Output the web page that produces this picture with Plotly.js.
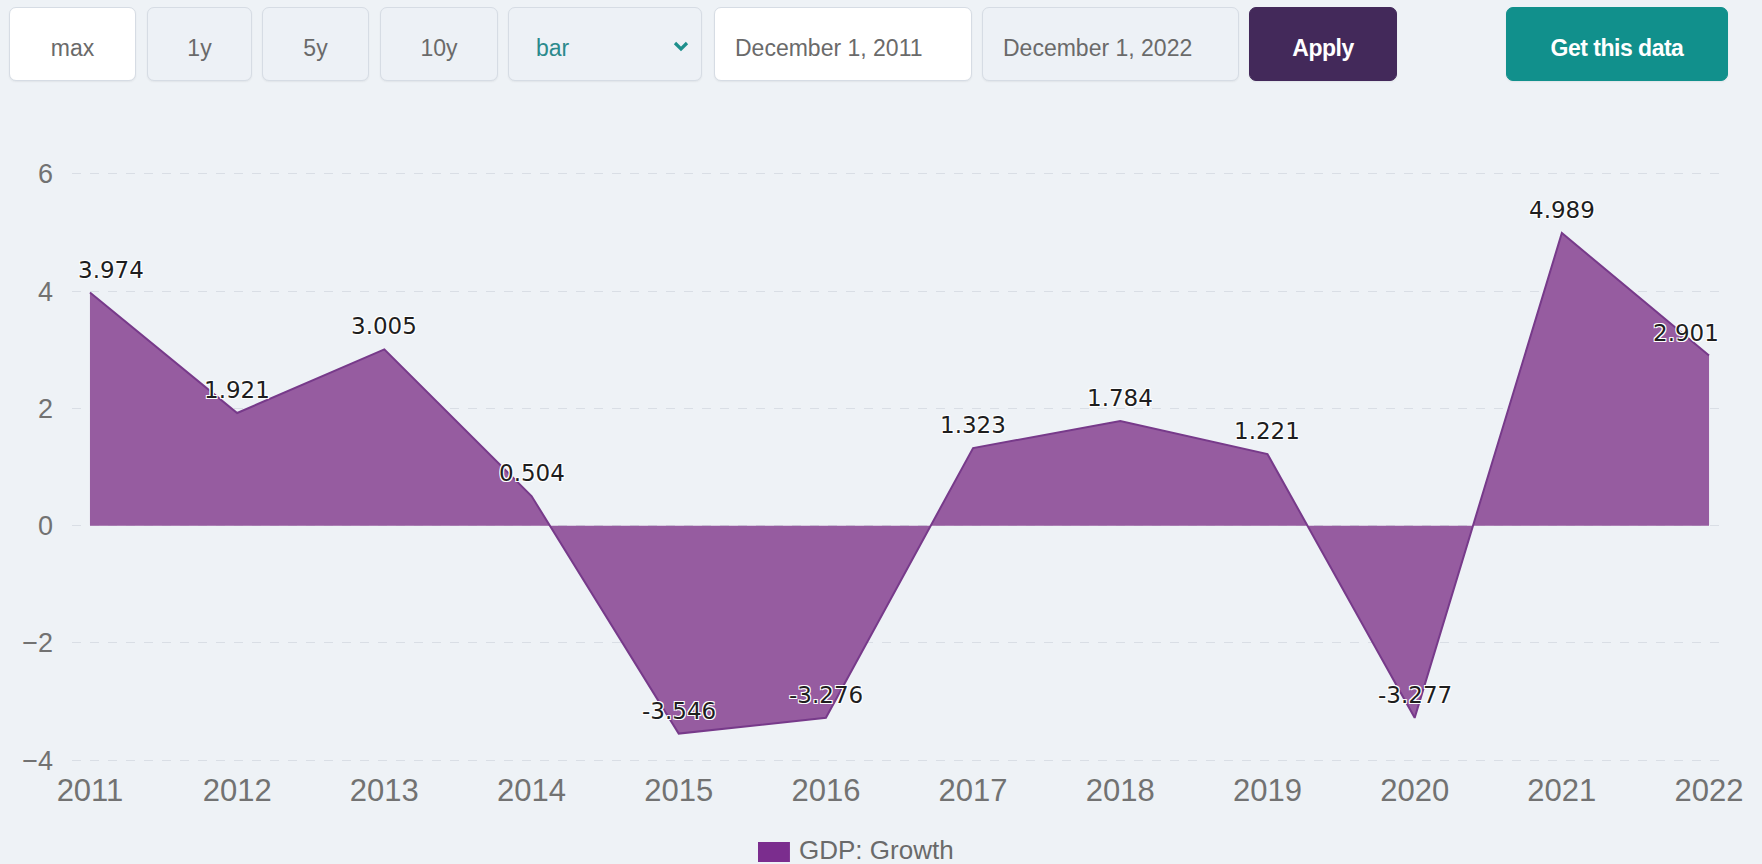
<!DOCTYPE html>
<html>
<head>
<meta charset="utf-8">
<script src="https://cdn.plot.ly/plotly-3.0.1.min.js"></script>
<style>
  html, body { margin: 0; padding: 0; background: #eef2f6; width: 1762px; height: 864px; overflow: hidden; }
  #chart { position: absolute; left: 0; top: 0; width: 1762px; height: 864px; }
  .bar { position: absolute; top: 0; left: 0; width: 1762px; height: 90px; z-index: 5; }
  .btn { position: absolute; top: 7px; height: 74px; box-sizing: border-box; border: 1px solid #d6dce4; border-radius: 7px;
         background: #edf1f6; color: #6a6a6a; font-family: "Liberation Sans Narrow", "Liberation Sans", Arial, sans-serif;
         font-size: 23px; display: flex; align-items: center; justify-content: center; padding-top: 9px;
         box-shadow: 0 1px 2px rgba(0,0,0,0.06); }
  .white { background: #ffffff; }
  .left { justify-content: flex-start; padding-left: 20px; }
  .dark { background: #43295a; color: #fff; border-color: #43295a; font-weight: 600; letter-spacing: -0.5px; }
  .teal { background: #11908c; color: #fff; border-color: #11908c; font-weight: 600; letter-spacing: -0.5px; }
</style>
</head>
<body>
<div class="bar">
  <div class="btn white" style="left:9px;width:127px;">max</div>
  <div class="btn" style="left:147px;width:105px;">1y</div>
  <div class="btn" style="left:262px;width:107px;">5y</div>
  <div class="btn" style="left:380px;width:118px;">10y</div>
  <div class="btn left" style="left:508px;width:194px;padding-left:27px;color:#2b8a8c;">bar
    <svg style="position:absolute;left:164px;top:33px" width="16" height="12" viewBox="0 0 16 12"><path d="M2 2 L8 8 L14 2" stroke="#1d8f8c" stroke-width="3.2" fill="none"/></svg>
  </div>
  <div class="btn white left" style="left:714px;width:258px;">December 1, 2011</div>
  <div class="btn left" style="left:982px;width:257px;">December 1, 2022</div>
  <div class="btn dark" style="left:1249px;width:148px;">Apply</div>
  <div class="btn teal" style="left:1506px;width:222px;">Get this data</div>
</div>
<div id="chart"></div>
<script>
const years = [2011, 2012, 2013, 2014, 2015, 2016, 2017, 2018, 2019, 2020, 2021, 2022];
const growth = [3.974, 1.921, 3.005, 0.504, -3.546, -3.276, 1.323, 1.784, 1.221, -3.277, 4.989, 2.901];
const seriesName = "GDP: Growth";
const yTicks = [-4, -2, 0, 2, 4, 6];

const bg = "#eef2f6";
const labelAnnotations = years.map((yr, i) => ({
  x: yr, y: growth[i], text: growth[i].toFixed(3), showarrow: false,
  xanchor: "center", yanchor: "middle", yshift: 23,
  xshift: i === 0 ? 21 : (i === years.length - 1 ? -23 : 0),
  font: { family: "DejaVu Sans", size: 23, color: "#1e1e1e",
          shadow: "-1px -1px 0 #fff, 1px -1px 0 #fff, -1px 1px 0 #fff, 1px 1px 0 #fff" }
}));

const trace = {
  type: "scatter", mode: "lines", x: years, y: growth, name: seriesName,
  fill: "tozeroy", fillcolor: "#965ca0",
  line: { color: "#773a8a", width: 2 },
  showlegend: false, hoverinfo: "x+y"
};

const layout = {
  width: 1762, height: 864,
  paper_bgcolor: bg, plot_bgcolor: bg,
  margin: { l: 72, r: 35, t: 172, b: 102 },
  showlegend: false,
  xaxis: {
    range: [2010.878, 2022.122], tickvals: years, ticktext: years.map(String),
    showgrid: false, zeroline: false, showline: false, ticks: "",
    tickfont: { family: "Liberation Sans", size: 31, color: "#727272" },
    ticklabelstandoff: 7
  },
  yaxis: {
    range: [-4.03, 6.03], tickvals: yTicks, ticktext: yTicks.map(v => v < 0 ? "\u2212" + Math.abs(v) : String(v)),
    showgrid: true, gridcolor: "#d9dee5", griddash: "dash", gridwidth: 1,
    zeroline: false, showline: false, ticks: "",
    tickfont: { family: "Liberation Sans", size: 27, color: "#727272" },
    ticklabelstandoff: 18
  },
  shapes: [
    { type: "rect", xref: "paper", yref: "paper", x0: 0.4145, x1: 0.4338, y0: -0.1695, y1: -0.1356,
      fillcolor: "#7b2d8e", line: { width: 0 } }
  ],
  annotations: labelAnnotations.concat([
    { xref: "paper", yref: "paper", x: 0.438, y: -0.149, xanchor: "left", yanchor: "middle",
      text: seriesName, showarrow: false, font: { family: "Liberation Sans", size: 26, color: "#6a6a6a" } }
  ])
};

Plotly.newPlot("chart", [trace], layout, { displayModeBar: false, staticPlot: false });
</script>
</body>
</html>
